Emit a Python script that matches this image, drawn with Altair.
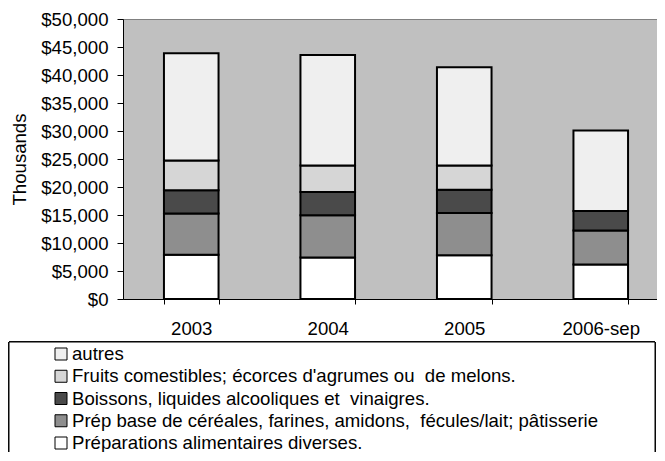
import altair as alt
import pandas as pd

years = ["2003", "2004", "2005", "2006-sep"]
categories = [
    "Préparations alimentaires diverses.",
    "Prép base de céréales, farines, amidons,\u00a0 fécules/lait; pâtisserie",
    "Boissons, liquides alcooliques et\u00a0 vinaigres.",
    "Fruits comestibles; écorces d'agrumes ou\u00a0 de melons.",
    "autres",
]
prep_div = [7900, 7400, 7800, 6150]
prep_base = [7350, 7550, 7550, 6100]
boissons = [4150, 4150, 4150, 3450]
fruits = [5350, 4750, 4350, 0]
autres = [19150, 19700, 17550, 14400]
series = [prep_div, prep_base, boissons, fruits, autres]
fills = ["#ffffff", "#8e8e8e", "#4a4a4a", "#d6d6d6", "#efefef"]
y_ticks = [0, 5000, 10000, 15000, 20000, 25000, 30000, 35000, 40000, 45000, 50000]

rows = []
for k, (cat, vals) in enumerate(zip(categories, series)):
    for yr, v in zip(years, vals):
        rows.append({"year": yr, "cat": cat, "value": v, "k": k})
df = pd.DataFrame(rows)
legend_order = categories[::-1]
leg_df = pd.DataFrame({"cat": legend_order})

FS = 18.6
fill_scale = alt.Scale(domain=categories, range=fills)

bars = alt.Chart(df).mark_bar(stroke="black", strokeWidth=2).encode(
    x=alt.X("year:N", sort=years,
            scale=alt.Scale(paddingInner=0.6, paddingOuter=0.3, range=[0, 546]),
            axis=alt.Axis(title=None, labelAngle=0, tickBand="extent", tickSize=5,
                          labelPadding=15, labelFontSize=FS, labelColor="black",
                          domainColor="black", tickColor="black")),
    y=alt.Y("value:Q", stack="zero",
            scale=alt.Scale(domain=[0, 50000], nice=False),
            axis=alt.Axis(title="Thousands", values=y_ticks, format="$,.0f", grid=False,
                          tickSize=6, labelPadding=9, labelFontSize=FS, labelColor="black",
                          domainColor="black", tickColor="black",
                          titleFontSize=FS, titleFontWeight="normal", titleColor="black",
                          titleX=-104, titleY=140, titleAngle=270,
                          titleAlign="center", titleBaseline="middle")),
    fill=alt.Fill("cat:N", scale=fill_scale, legend=None),
    order=alt.Order("k:Q"),
)

box = alt.Chart(leg_df).mark_rect(fill="white", stroke="black", strokeWidth=1).encode(
    x=alt.value(-114), x2=alt.value(532), y=alt.value(323), y2=alt.value(520)
)

leg_y = alt.Y("cat:N", sort=legend_order,
              scale=alt.Scale(domain=legend_order, range=[335, 424], padding=0),
              axis=None)

swatches = alt.Chart(leg_df).mark_square(size=144, stroke="black", strokeWidth=1,
                                          opacity=1, filled=True).encode(
    x=alt.value(-62),
    y=leg_y,
    fill=alt.Fill("cat:N", scale=fill_scale, legend=None),
)

texts = alt.Chart(leg_df).mark_text(align="left", baseline="middle", fontSize=FS,
                                     color="black").encode(
    x=alt.value(-51),
    y=leg_y,
    text="cat:N",
)

chart = alt.layer(bars, box, swatches, texts).resolve_scale(
    y="independent"
).properties(
    width=534, height=280,
    autosize=alt.AutoSizeParams(type="none"),
    padding={"left": 115, "top": 11, "right": 0, "bottom": 153},
).configure(font="Liberation Sans").configure_view(
    fill="#C0C0C0", stroke="#808080", strokeWidth=1
)

chart.save("out.html", embed_options={"renderer": "svg", "actions": False})
